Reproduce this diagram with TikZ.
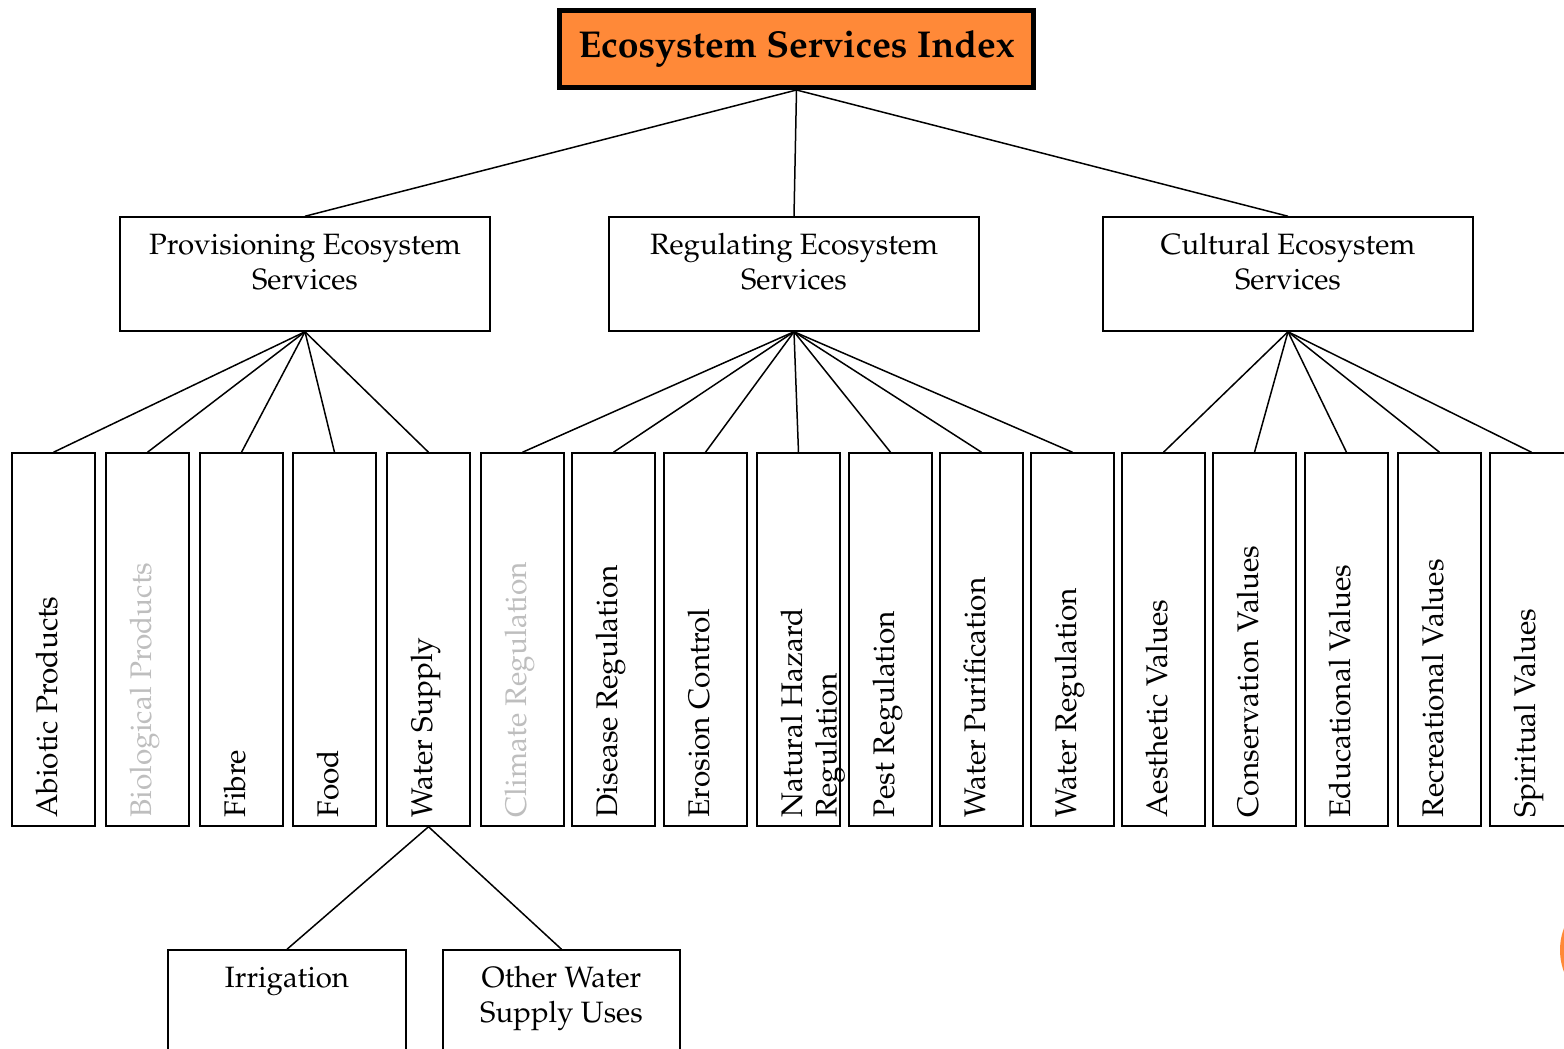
\documentclass[tikz,border=0pt]{standalone}
\usepackage[T1]{fontenc}
\usepackage{mathpazo}
\usepackage{tikz}
\usetikzlibrary{calc,positioning}
\definecolor{indexorange}{RGB}{255,137,56}
\definecolor{fadedgrey}{RGB}{190,190,190}
\tikzset{
  indexbox/.style={draw,line width=2.5pt,fill=indexorange,minimum width=237pt,minimum height=38.5pt,inner sep=0pt,
    font=\bfseries\fontsize{18.7}{22}\selectfont},
  catbox/.style={draw,line width=0.75pt,minimum width=185pt,minimum height=57pt,inner sep=0pt},
  cattext/.style={anchor=north,align=center,inner sep=0pt,yshift=-8.5pt,font=\fontsize{14.7}{17.5}\selectfont},
  leaf/.style={draw,line width=0.75pt,minimum width=41.5pt,minimum height=186.5pt,inner sep=0pt},
  leaftext/.style={rotate=90,anchor=north west,align=left,inner sep=0pt,font=\fontsize{14.9}{17.2}\selectfont},
  link/.style={line width=0.75pt}
}

\begin{document}
\begin{tikzpicture}[x=0.5pt,y=-0.5pt]
		\useasboundingbox (0,0) rectangle (1564,1049);
		\node(index) [indexbox] at (796.5,49) {Ecosystem Services Index};
		\node(prov) [catbox] at (305,274) {};
		\node at (prov.north) [cattext] {Provisioning Ecosystem\\Services};
		\node(reg) [catbox] at (794,274) {};
		\node at (reg.north) [cattext] {Regulating Ecosystem\\Services};
		\node(cult) [catbox] at (1288,274) {};
		\node at (cult.north) [cattext] {Cultural Ecosystem\\Services};
		\draw[link] (index.south) -- (prov.north);
		\draw[link] (index.south) -- (reg.north);
		\draw[link] (index.south) -- (cult.north);
		\node(abiotic) [leaf] at (53.5,639.5) {};
		\node(biological) [leaf,right=4.75pt of abiotic] {};
		\node(fibre) [leaf,right=4.75pt of biological] {};
		\node(food) [leaf,right=4.25pt of fibre] {};
		\node(watersupply) [leaf,right=4.75pt of food] {};
		\node(climate) [leaf,right=4.75pt of watersupply] {};
		\node(disease) [leaf,right=3.25pt of climate] {};
		\node(erosion) [leaf,right=3.75pt of disease] {};
		\node(hazard) [leaf,right=4.25pt of erosion] {};
		\node(pest) [leaf,right=3.75pt of hazard] {};
		\node(purification) [leaf,right=3.25pt of pest] {};
		\node(waterreg) [leaf,right=3.25pt of purification] {};
		\node(aesthetic) [leaf,right=3.25pt of waterreg] {};
		\node(conservation) [leaf,right=3.25pt of aesthetic] {};
		\node(educational) [leaf,right=3.75pt of conservation] {};
		\node(recreational) [leaf,right=4.25pt of educational] {};
		\node(spiritual) [leaf,right=3.75pt of recreational] {};
		\node at ($(abiotic.south west)+(24,-9)$) [leaftext] {Abiotic Products};
		\node at ($(biological.south west)+(24,-9)$) [leaftext,text=fadedgrey] {Biological Products};
		\node at ($(fibre.south west)+(24,-9)$) [leaftext] {Fibre};
		\node at ($(food.south west)+(24,-9)$) [leaftext] {Food};
		\node at ($(watersupply.south west)+(24,-9)$) [leaftext] {Water Supply};
		\node at ($(climate.south west)+(24,-9)$) [leaftext,text=fadedgrey] {Climate Regulation};
		\node at ($(disease.south west)+(24,-9)$) [leaftext] {Disease Regulation};
		\node at ($(erosion.south west)+(24,-9)$) [leaftext] {Erosion Control};
		\node at ($(hazard.south west)+(24,-9)$) [leaftext] {Natural Hazard\\Regulation};
		\node at ($(pest.south west)+(24,-9)$) [leaftext] {Pest Regulation};
		\node at ($(purification.south west)+(24,-9)$) [leaftext] {Water Purification};
		\node at ($(waterreg.south west)+(24,-9)$) [leaftext] {Water Regulation};
		\node at ($(aesthetic.south west)+(24,-9)$) [leaftext] {Aesthetic Values};
		\node at ($(conservation.south west)+(24,-9)$) [leaftext] {Conservation Values};
		\node at ($(educational.south west)+(24,-9)$) [leaftext] {Educational Values};
		\node at ($(recreational.south west)+(24,-9)$) [leaftext] {Recreational Values};
		\node at ($(spiritual.south west)+(24,-9)$) [leaftext] {Spiritual Values};
		\draw[link] (prov.south) -- (abiotic.north);
		\draw[link] (prov.south) -- (biological.north);
		\draw[link] (prov.south) -- (fibre.north);
		\draw[link] (prov.south) -- (food.north);
		\draw[link] (prov.south) -- (watersupply.north);
		\draw[link] (reg.south) -- (climate.north);
		\draw[link] (reg.south) -- (disease.north);
		\draw[link] (reg.south) -- (erosion.north);
		\draw[link] (reg.south) -- (hazard.north);
		\draw[link] (reg.south) -- (pest.north);
		\draw[link] (reg.south) -- (purification.north);
		\draw[link] (reg.south) -- (waterreg.north);
		\draw[link] (cult.south) -- (aesthetic.north);
		\draw[link] (cult.south) -- (conservation.north);
		\draw[link] (cult.south) -- (educational.north);
		\draw[link] (cult.south) -- (recreational.north);
		\draw[link] (cult.south) -- (spiritual.north);
		\node(irrigation) [catbox,minimum width=119pt,minimum height=75pt] at (287,1025) {};
		\node at (irrigation.north) [cattext] {Irrigation};
		\node(otheruses) [catbox,minimum width=118.5pt,minimum height=75pt] at (561.5,1025) {};
		\node at (otheruses.north) [cattext] {Other Water\\Supply Uses};
		\draw[link] (watersupply.south) -- (irrigation.north);
		\draw[link] (watersupply.south) -- (otheruses.north);
		\fill[indexorange] (1622,950) circle (31pt);
	\end{tikzpicture}
\end{document}
